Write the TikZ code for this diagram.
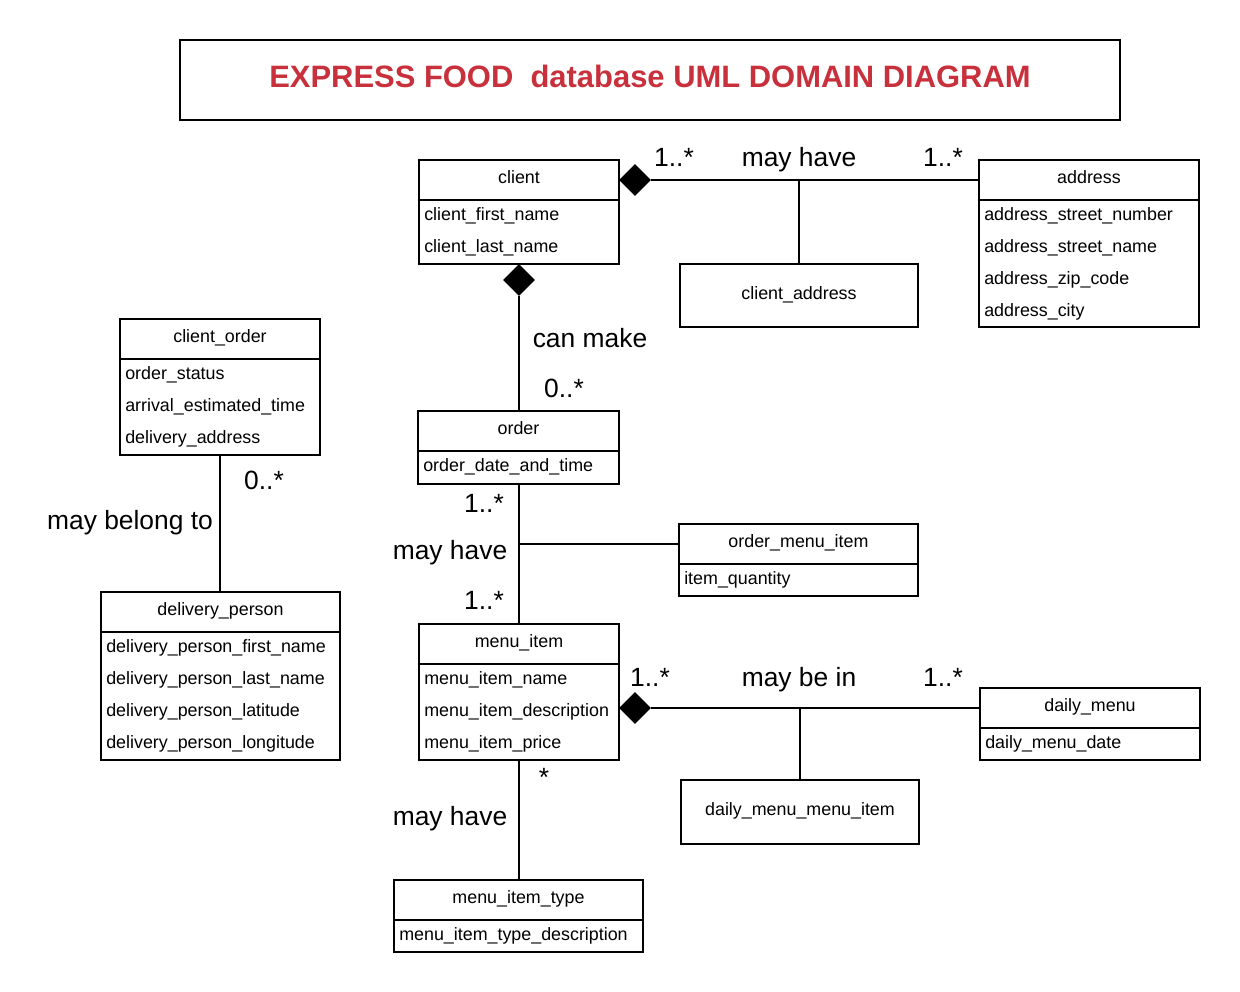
\documentclass[tikz,border=0pt]{standalone}
\usepackage{fontspec}
\setmainfont{Liberation Sans}
\usetikzlibrary{shapes.geometric,fit,calc}
\definecolor{titlered}{RGB}{200,48,60}
\begin{document}
\begin{tikzpicture}[x=0.75pt,y=-0.75pt,
  box/.style={draw, inner sep=0pt, line width=1.5pt},
  hdr/.style={font=\fontsize{13.4}{15}\selectfont, inner sep=0pt, anchor=base},
  attr/.style={font=\fontsize{13.4}{15}\selectfont, inner sep=0pt, anchor=base west},
  lbl/.style={font=\fontsize{19.8}{22}\selectfont, inner sep=0pt, anchor=base},
  titletext/.style={font=\fontsize{23.2}{26}\selectfont\bfseries, text=titlered, inner sep=0pt, anchor=base},
  comp/.style={diamond, fill=black, draw=none, inner sep=0pt, minimum width=24pt, minimum height=24pt},
  link/.style={line width=1.5pt}]
\useasboundingbox (0,0) rectangle (1240,992);

% title
\node[box, fit={(180,40) (1120,120)}] (title) {};
\node[titletext] (titletxt) at (650,87) {EXPRESS FOOD\ \ database UML DOMAIN DIAGRAM};

% client
\node[box, fit={(419,160) (619,264)}] (client) {};
\draw[link] (419,200) -- (619,200);
\node[hdr] (clienth) at (519,183) {client};
\node[attr] (client1) at (424,220) {client\_first\_name};
\node[attr] (client2) at (424,252) {client\_last\_name};

% address
\node[box, fit={(979,160) (1199,327)}] (address) {};
\draw[link] (979,200) -- (1199,200);
\node[hdr] (addressh) at (1089,183) {address};
\node[attr] (address1) at (984,220) {address\_street\_number};
\node[attr] (address2) at (984,252) {address\_street\_name};
\node[attr] (address3) at (984,284) {address\_zip\_code};
\node[attr] (address4) at (984,316) {address\_city};

% client_address
\node[box, fit={(680,264) (918,327)}] (clientaddress) {};
\node[hdr] (clientaddressh) at (799,299) {client\_address};

% client_order
\node[box, fit={(120,319) (320,455)}] (clientorder) {};
\draw[link] (120,359) -- (320,359);
\node[hdr] (clientorderh) at (220,342) {client\_order};
\node[attr] (co1) at (125,379) {order\_status};
\node[attr] (co2) at (125,411) {arrival\_estimated\_time};
\node[attr] (co3) at (125,443) {delivery\_address};

% order
\node[box, fit={(418,411) (619,484)}] (order) {};
\draw[link] (418,451) -- (619,451);
\node[hdr] (orderh) at (518.5,434) {order};
\node[attr] (order1) at (423,471) {order\_date\_and\_time};

% order_menu_item
\node[box, fit={(679,524) (918,596)}] (omi) {};
\draw[link] (679,564) -- (918,564);
\node[hdr] (omih) at (798.5,547) {order\_menu\_item};
\node[attr] (omi1) at (684,584) {item\_quantity};

% delivery_person
\node[box, fit={(101,592) (340,760)}] (dp) {};
\draw[link] (101,632) -- (340,632);
\node[hdr] (dph) at (220.5,615) {delivery\_person};
\node[attr] (dp1) at (106,652) {delivery\_person\_first\_name};
\node[attr] (dp2) at (106,684) {delivery\_person\_last\_name};
\node[attr] (dp3) at (106,716) {delivery\_person\_latitude};
\node[attr] (dp4) at (106,748) {delivery\_person\_longitude};

% menu_item
\node[box, fit={(419,624) (619,760)}] (mi) {};
\draw[link] (419,664) -- (619,664);
\node[hdr] (mih) at (519,647) {menu\_item};
\node[attr] (mi1) at (424,684) {menu\_item\_name};
\node[attr] (mi2) at (424,716) {menu\_item\_description};
\node[attr] (mi3) at (424,748) {menu\_item\_price};

% daily_menu
\node[box, fit={(980,688) (1200,760)}] (dm) {};
\draw[link] (980,728) -- (1200,728);
\node[hdr] (dmh) at (1090,711) {daily\_menu};
\node[attr] (dm1) at (985,748) {daily\_menu\_date};

% daily_menu_menu_item
\node[box, fit={(681,780) (919,844)}] (dmmi) {};
\node[hdr] (dmmih) at (800,815) {daily\_menu\_menu\_item};

% menu_item_type
\node[box, fit={(394,880) (643,952)}] (mit) {};
\draw[link] (394,920) -- (643,920);
\node[hdr] (mith) at (518.5,903) {menu\_item\_type};
\node[attr] (mit1) at (399,940) {menu\_item\_type\_description};

% composition diamonds
\node[comp] (d1) at (635,180) {};
\node[comp] (d2) at (519,280) {};
\node[comp] (d3) at (635,708) {};

% connectors
\draw[link] (d1.east) -- (d1.east -| address.west);
\coordinate (j1) at (799,180);
\draw[link] (j1) -- (clientaddress.north);
\draw[link] (d2.south) -- (d2.south |- order.north);
\draw[link] ($(clientorder.north east)+(0,20)$) -- ($(clientorder.north east)+(0,20)$ -| d2.south);
\draw[link] (clientorder.south) -- (clientorder.south |- dp.north);
\draw[link] (order.south) -- (order.south |- mi.north);
\coordinate (j2) at (519,544);
\draw[link] (j2) -- (j2 -| omi.west);
\draw[link] (d3.east) -- (d3.east -| dm.west);
\coordinate (j3) at (800,708);
\draw[link] (j3) -- (dmmi.north);
\draw[link] (mi.south) -- (mi.south |- mit.north);

% labels
\node[lbl] (l1) at (674,166) {1..*};
\node[lbl] (l2) at (799,166) {may have};
\node[lbl] (l3) at (943,166) {1..*};
\node[lbl] (l4) at (590,347) {can make};
\node[lbl] (l5) at (564,397) {0..*};
\node[lbl] (l6) at (264,489) {0..*};
\node[lbl] (l7) at (130,529) {may belong to};
\node[lbl] (l8) at (484,512) {1..*};
\node[lbl] (l9) at (450,559) {may have};
\node[lbl] (l10) at (484,609) {1..*};
\node[lbl] (l11) at (650,686) {1..*};
\node[lbl] (l12) at (799,686) {may be in};
\node[lbl] (l13) at (943,686) {1..*};
\node[lbl] (l14) at (544,786) {*};
\node[lbl] (l15) at (450,825) {may have};
\end{tikzpicture}
\end{document}
